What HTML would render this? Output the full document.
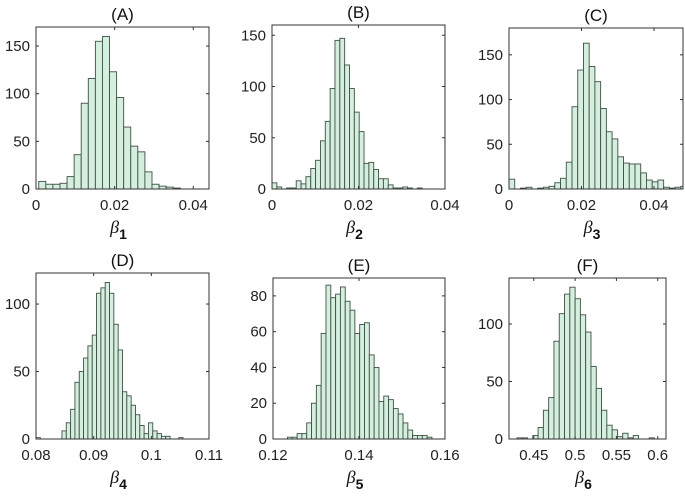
<!DOCTYPE html>
<html><head><meta charset="utf-8"><style>
html,body{margin:0;padding:0;background:#fff}
svg{display:block;font-family:"Liberation Sans",sans-serif}
</style></head><body>
<svg id="fig" width="685" height="500" viewBox="0 0 685 500"></svg>
<script>
const countsA=[8,5,5,6,13,36,90,116,155,160,123,96,65,45,39,18,5,3,2,1,0,0,0,0];
const countsB=[6,2,0,1,1,8,5,12,20,28,47,66,98,145,147,121,98,75,56,25,26,19,10,10,4,1,1,2,1,0,1,0,0,0,0,0];
const countsC=[11,0,1,2,0,1,2,3,7,12,30,92,133,163,137,120,90,64,56,36,29,28,28,18,10,8,10,2,1,2,3,0];
const countsD=[1,0,0,0,0,0,6,12,22,42,50,60,69,77,108,112,116,108,85,66,35,32,25,18,10,4,12,6,4,2,2,0,0,1,0,0,0,0,0,0];
const countsE=[0,0,0,1,1,3,3,9,20,30,59,86,79,81,85,77,72,59,64,65,47,40,21,24,22,17,14,9,5,2,2,2,1,0,0,0];
const countsF=[0,1,1,0,3,10,25,36,85,109,126,132,122,108,93,63,44,25,12,8,2,5,1,3,0,0,1,0,0];
const ticksXA=[0,0.02,0.04], ticksXB=[0,0.02,0.04], ticksXC=[0,0.02,0.04];
const ticksXD=[0.08,0.09,0.1,0.11], ticksXE=[0.12,0.14,0.16], ticksXF=[0.45,0.5,0.55,0.6];
const ticksYA=[0,50,100,150], ticksYB=[0,50,100,150], ticksYC=[0,50,100,150];
const ticksYD=[0,50,100], ticksYE=[0,20,40,60,80], ticksYF=[0,50,100];
const panelTitles=["(A)","(B)","(C)","(D)","(E)","(F)"];

const panels=[
 {c:countsA,tx:ticksXA,ty:ticksYA,x0:0,x1:0.044,y1:170,b0:0.0007,bw:0.0018,L:36,R:209,T:27,B:189,sub:"1",lab:["0","0.02","0.04"]},
 {c:countsB,tx:ticksXB,ty:ticksYB,x0:0,x1:0.04,y1:160,b0:0,bw:0.00112,L:272,R:445,T:25,B:189,sub:"2",lab:["0","0.02","0.04"]},
 {c:countsC,tx:ticksXC,ty:ticksYC,x0:0,x1:0.048,y1:180,b0:0,bw:0.00158,L:509,R:683,T:28,B:189,sub:"3",lab:["0","0.02","0.04"]},
 {c:countsD,tx:ticksXD,ty:ticksYD,x0:0.08,x1:0.11,y1:123,b0:0.08,bw:0.00075,L:36,R:209,T:273,B:439,sub:"4",lab:["0.08","0.09","0.1","0.11"]},
 {c:countsE,tx:ticksXE,ty:ticksYE,x0:0.12,x1:0.16,y1:90,b0:0.12,bw:0.00112,L:273,R:445,T:278,B:439,sub:"5",lab:["0.12","0.14","0.16"]},
 {c:countsF,tx:ticksXF,ty:ticksYF,x0:0.42,x1:0.61,y1:140,b0:0.4232,bw:0.0064,L:509,R:666,T:278,B:439,sub:"6",lab:["0.45","0.5","0.55","0.6"]}
];
const NS="http://www.w3.org/2000/svg";
const svg=document.getElementById('fig');
function mk(t,a,p){const e=document.createElementNS(NS,t);for(const k in a)e.setAttribute(k,a[k]);(p||svg).appendChild(e);return e;}
panels.forEach((p,i)=>{
 const g=mk('g',{});
 
 
 const xs=v=>p.L+(v-p.x0)/(p.x1-p.x0)*(p.R-p.L);
 const ys=v=>p.B-v/p.y1*(p.B-p.T);
 p.c.forEach((v,k)=>{
  const xa=xs(p.b0+k*p.bw), xb=Math.min(xs(p.b0+(k+1)*p.bw),p.R);
  if(xa>=p.R) return;
  const r=mk('rect',{x:xa,y:ys(v),width:xb-xa,height:p.B-ys(v),fill:'#d5efdf',stroke:'#3f5046','stroke-width':0.9},g);
  
  
 });
 const box=mk('rect',{x:p.L,y:p.T,width:p.R-p.L,height:p.B-p.T,fill:'none',stroke:'#333','stroke-width':1},g);
 
 
 p.tx.forEach((v,k)=>{
  const x=xs(v);
  mk('line',{x1:x,x2:x,y1:p.B,y2:p.B-3,stroke:'#333'},g);
  mk('line',{x1:x,x2:x,y1:p.T,y2:p.T+3,stroke:'#333'},g);
  const t=mk('text',{x:x,y:p.B+21,'text-anchor':'middle','font-size':15,fill:'#222'},g);
  t.textContent=p.lab[k];
  
  
 });
 p.ty.forEach(v=>{
  const y=ys(v);
  mk('line',{x1:p.L,x2:p.L+3,y1:y,y2:y,stroke:'#333'},g);
  mk('line',{x1:p.R,x2:p.R-3,y1:y,y2:y,stroke:'#333'},g);
  const t=mk('text',{x:p.L-6,y:y+5,'text-anchor':'end','font-size':15,fill:'#222'},g);
  t.textContent=String(v);
  
  
 });
 const tt=mk('text',{x:(p.L+p.R)/2,y:p.T-7,'text-anchor':'middle','font-size':17,fill:'#111'},g);
 tt.textContent=panelTitles[i];
 
 
 const xl=mk('text',{x:(p.L+p.R)/2-4,y:p.B+44,'text-anchor':'middle','font-size':18,fill:'#111','font-style':'italic','font-family':'"Liberation Serif",serif'},g);
 xl.textContent='β';
 const s=mk('tspan',{dy:6,'font-size':14,'font-style':'normal','font-weight':'bold','font-family':'"Liberation Sans",sans-serif'},xl);
 s.textContent=p.sub;
 
 
});
</script>
</body></html>
